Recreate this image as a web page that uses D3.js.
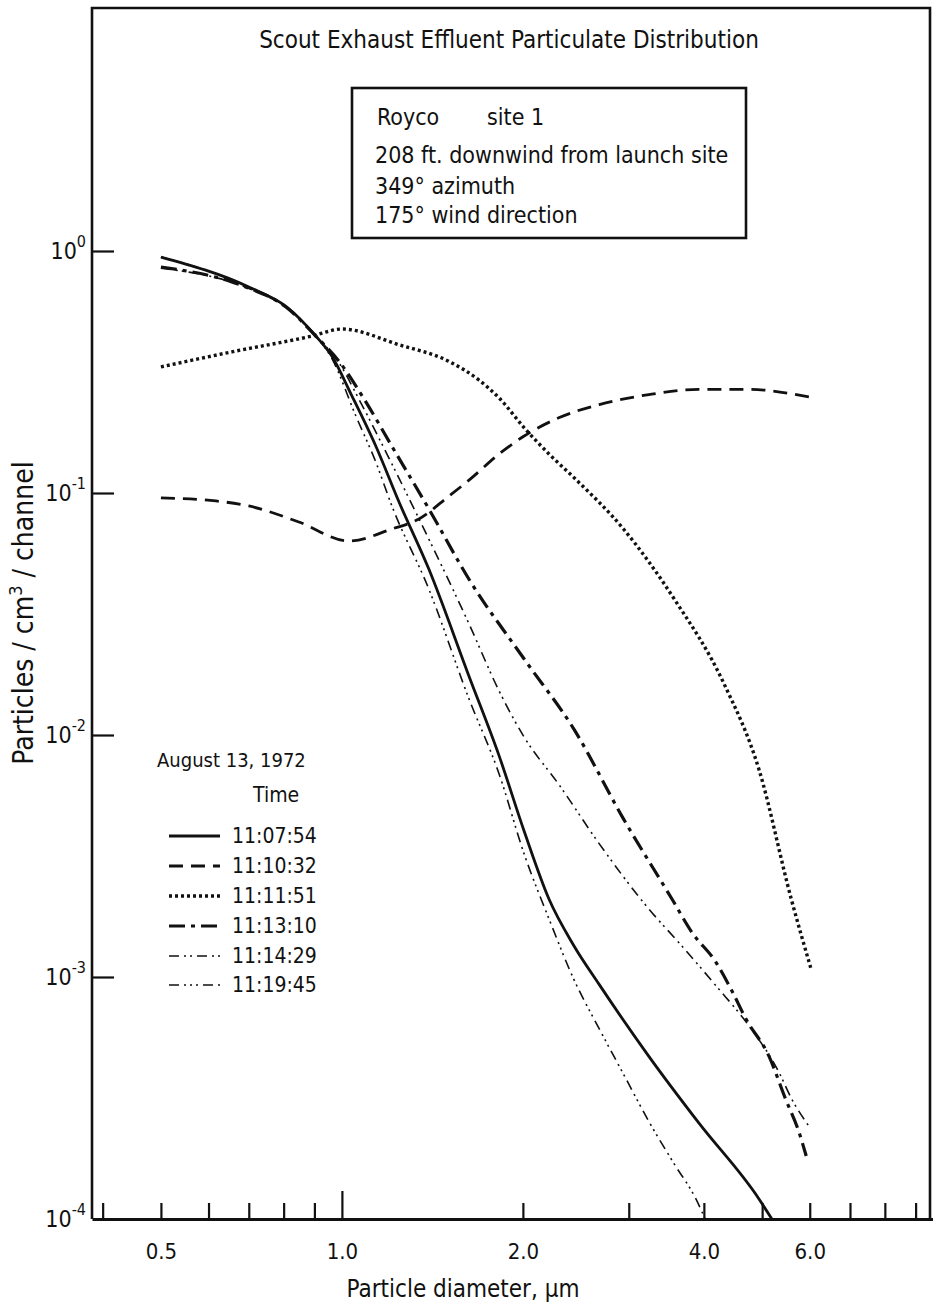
<!DOCTYPE html>
<html>
<head>
<meta charset="utf-8">
<script src="https://cdn.jsdelivr.net/npm/d3@7"></script>
<style>
body { margin: 0; background: #fff; }
</style>
</head>
<body>
<div id="chart"></div>
<script>
var t110754 = [[0.50,0.944],[0.70,0.71],[0.81,0.587],[0.905,0.445],[0.962,0.368],[1.039,0.252],[1.139,0.156],[1.244,0.092],[1.395,0.0485],[1.627,0.0175],[1.826,0.0082],[2.01,0.0040],[2.21,0.0021],[2.43,0.00135],[2.68,0.00093],[3.24,0.00047],[3.92,0.00025],[4.94,0.000121],[5.19,0.0001]] ;
var t111032 = [[0.50,0.0954],[0.617,0.0927],[0.70,0.0884],[0.848,0.0759],[1.027,0.0633],[1.211,0.071],[1.343,0.0781],[1.506,0.097],[1.627,0.113],[1.826,0.145],[2.01,0.172],[2.30,0.205],[2.68,0.232],[3.24,0.255],[3.92,0.268],[4.75,0.268],[6.0,0.249]] ;
var t111151 = [[0.50,0.332],[0.656,0.383],[0.891,0.445],[1.0,0.476],[1.244,0.41],[1.506,0.35],[1.69,0.293],[1.826,0.247],[2.01,0.186],[2.21,0.145],[2.43,0.116],[2.94,0.071],[3.57,0.0365],[4.32,0.0163],[4.94,0.0072],[5.59,0.0021],[6.03,0.00108]] ;
var t111310 = [[0.50,0.859],[0.656,0.745],[0.692,0.71],[0.807,0.587],[0.905,0.445],[0.989,0.35],[1.096,0.238],[1.211,0.156],[1.395,0.086],[1.627,0.044],[2.01,0.0206],[2.43,0.0106],[2.94,0.0045],[3.54,0.0021],[3.82,0.00153],[4.19,0.00115],[4.45,0.00088],[4.70,0.00067],[5.13,0.000472],[5.47,0.000313],[5.76,0.000228],[5.92,0.000182]] ;
var t111429 = [[0.50,0.85],[0.70,0.70],[0.807,0.585],[0.905,0.445],[0.989,0.345],[1.067,0.2445],[1.211,0.1318],[1.395,0.0645],[1.627,0.0288],[1.826,0.0152],[2.01,0.0098],[2.30,0.0062],[2.68,0.00355],[3.24,0.00191],[3.68,0.00134],[4.19,0.00092],[4.75,0.00063],[5.33,0.000405],[5.60,0.000313],[5.98,0.000242]] ;
var t111945 = [[0.50,0.944],[0.70,0.71],[0.807,0.587],[0.905,0.445],[0.962,0.36],[1.055,0.208],[1.139,0.134],[1.211,0.0884],[1.395,0.0401],[1.627,0.0141],[1.826,0.0069],[2.01,0.00322],[2.21,0.00174],[2.43,0.00098],[2.68,0.00061],[2.94,0.000397],[3.24,0.000253],[3.57,0.000169],[3.88,0.000121],[4.02,0.0001]] ;

var seriesNames = ["11:07:54", "11:10:32", "11:11:51", "11:13:10", "11:14:29", "11:19:45"] ;
var seriesData = [t110754, t111032, t111151, t111310, t111429, t111945] ;

var xTickValues = [0.4, 0.5, 0.6, 0.7, 0.8, 0.9, 1, 2, 3, 4, 5, 6, 7, 8, 9] ;
var xTickLabels = {"0.5": "0.5", "1": "1.0", "2": "2.0", "4": "4.0", "6": "6.0"} ;
var yTickValues = [1, 0.1, 0.01, 0.001, 0.0001] ;
var yTickExponents = ["0", "-1", "-2", "-3", "-4"] ;

var titleText = "Scout Exhaust Effluent Particulate Distribution" ;
var infoLines = ["208 ft. downwind from launch site", "349\u00b0 azimuth", "175\u00b0 wind direction"] ;

// line styles, same order as seriesNames
var seriesStyles = [
    {dash: null, width: 2.8},
    {dash: "14,8", width: 2.8},
    {dash: "3,3", width: 3.4},
    {dash: "16,6,4,6", width: 3.2},
    {dash: "10,5,2,4,2,5", width: 1.6},
    {dash: "10,5,2,4,2,4,2,5", width: 1.6}
] ;

var ink = "#111" ;
var font = "'DejaVu Sans Condensed', 'Liberation Sans Narrow', sans-serif" ;

var width = 933, height = 1308 ;

var svg = d3.select("#chart").append("svg")
    .attr("width", width)
    .attr("height", height)
    .style("background", "#fff")
    .attr("font-family", font)
    .attr("fill", ink) ;

var x = d3.scaleLog().domain([0.384, 9.62]).range([92, 933]) ;
var y = d3.scaleLog().domain([1e-4, 1]).range([1219, 251]) ;

//frame (left side doubles as the y axis)
svg.append("path")
    .attr("d", "M92," + y(1e-4) + "V8H930V" + y(1e-4))
    .attr("fill", "none")
    .attr("stroke", ink)
    .attr("stroke-width", 2.6) ;

//x axis, ticks point up into the plot
var xAxis = d3.axisBottom(x)
    .tickValues(xTickValues)
    .tickSizeInner(-16)
    .tickSizeOuter(0)
    .tickPadding(24)
    .tickFormat(function(d) { return xTickLabels[String(d)] || "" ; }) ;

var gx = svg.append("g")
    .attr("transform", "translate(0," + y(1e-4) + ")")
    .call(xAxis) ;

gx.select(".domain").attr("stroke", ink).attr("stroke-width", 3) ;
gx.selectAll(".tick line")
    .attr("stroke", ink)
    .attr("stroke-width", 2.2)
    .attr("y2", function(d) { return d == 1 ? -28 : -16 ; }) ;
gx.selectAll(".tick text")
    .attr("font-family", font)
    .attr("font-size", 22)
    .attr("fill", ink) ;

//y axis, ticks point right
var yAxis = d3.axisLeft(y)
    .tickValues(yTickValues.slice(0, 4))
    .tickSizeInner(-22)
    .tickSizeOuter(0)
    .tickFormat("") ;

var gy = svg.append("g")
    .attr("transform", "translate(92,0)")
    .call(yAxis) ;

gy.select(".domain").remove() ;
gy.selectAll(".tick line").attr("stroke", ink).attr("stroke-width", 2.2) ;

yTickValues.forEach(function(v, i) {
    var t = svg.append("text")
	.attr("x", 86)
	.attr("y", y(v) + 8)
	.attr("text-anchor", "end")
	.attr("font-size", 23) ;
    t.append("tspan").text("10") ;
    t.append("tspan")
	.attr("dy", -12)
	.attr("font-size", 16)
	.text(yTickExponents[i]) ;
}) ;

//axis titles
var yt = svg.append("text")
    .attr("transform", "translate(33,613) rotate(-90)")
    .attr("text-anchor", "middle")
    .attr("font-size", 28) ;
yt.append("tspan").text("Particles / cm") ;
yt.append("tspan").attr("dy", -11).attr("font-size", 18).text("3") ;
yt.append("tspan").attr("dy", 11).text(" / channel") ;

svg.append("text")
    .attr("x", 463)
    .attr("y", 1297)
    .attr("text-anchor", "middle")
    .attr("font-size", 24)
    .text("Particle diameter, \u03bcm") ;

svg.append("text")
    .attr("x", 509)
    .attr("y", 48)
    .attr("text-anchor", "middle")
    .attr("font-size", 24)
    .text(titleText) ;

//info box
svg.append("rect")
    .attr("x", 352)
    .attr("y", 88)
    .attr("width", 394)
    .attr("height", 150)
    .attr("fill", "none")
    .attr("stroke", ink)
    .attr("stroke-width", 2.6) ;

svg.append("text").attr("x", 377).attr("y", 125).attr("font-size", 23).text("Royco") ;
svg.append("text").attr("x", 487).attr("y", 125).attr("font-size", 23).text("site 1") ;
svg.selectAll(".info")
    .data(infoLines)
    .enter().append("text")
    .attr("class", "info")
    .attr("x", 375)
    .attr("y", function(d, i) { return [163, 194, 223][i] ; })
    .attr("font-size", 23)
    .text(function(d) { return d ; }) ;

//curves
var line = d3.line()
    .x(function(d) { return x(d[0]) ; })
    .y(function(d) { return y(d[1]) ; })
    .curve(d3.curveMonotoneX) ;

svg.selectAll(".series")
    .data(seriesData)
    .enter().append("path")
    .attr("class", "series")
    .attr("d", line)
    .attr("fill", "none")
    .attr("stroke", ink)
    .attr("stroke-width", function(d, i) { return seriesStyles[i].width ; })
    .attr("stroke-dasharray", function(d, i) { return seriesStyles[i].dash ; }) ;

//legend
svg.append("text").attr("x", 157).attr("y", 767).attr("font-size", 20).text("August 13, 1972") ;
svg.append("text").attr("x", 253).attr("y", 802).attr("font-size", 21).text("Time") ;

var legendBase = [843, 873, 903, 933, 963, 992] ;
var lg = svg.selectAll(".legend")
    .data(seriesNames)
    .enter().append("g")
    .attr("class", "legend") ;

lg.append("line")
    .attr("x1", 169)
    .attr("x2", 220)
    .attr("y1", function(d, i) { return legendBase[i] - 7 ; })
    .attr("y2", function(d, i) { return legendBase[i] - 7 ; })
    .attr("stroke", ink)
    .attr("stroke-width", function(d, i) { return seriesStyles[i].width ; })
    .attr("stroke-dasharray", function(d, i) { return seriesStyles[i].dash ; }) ;

lg.append("text")
    .attr("x", 232)
    .attr("y", function(d, i) { return legendBase[i] ; })
    .attr("font-size", 21)
    .text(function(d) { return d ; }) ;
</script>
</body>
</html>
